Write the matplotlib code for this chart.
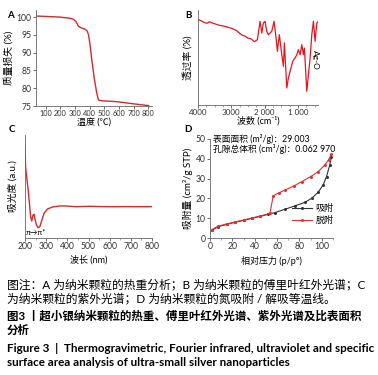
import numpy as np
import matplotlib
matplotlib.use("Agg")
import matplotlib.pyplot as plt
from matplotlib.lines import Line2D
from matplotlib.ticker import MultipleLocator

plt.rcParams['font.family'] = ['Lato', 'Noto Sans CJK SC', 'DejaVu Sans']
plt.rcParams['axes.unicode_minus'] = False

# A: thermogravimetric curve
tga_temp = [40, 100, 200, 260, 285, 307, 323, 341, 364, 382, 393, 404, 415,
            431, 447, 460, 476, 589, 701, 803]
tga_mass = [100.3, 100.2, 100.0, 99.7, 99.5, 98.8, 97.5, 97.0, 96.7, 96.2,
            95.0, 92.0, 88.0, 83.0, 79.0, 76.7, 76.5, 76.2, 75.6, 75.1]

# B: FTIR spectrum
ir_wn = [3991, 3900, 3820, 3739, 3660, 3589, 3520, 3390, 3200, 2988, 2850,
         2688, 2600, 2490, 2400, 2309, 2219, 2138, 2087, 2039, 1988, 1937,
         1889, 1787, 1718, 1658, 1619, 1559, 1487, 1438, 1408, 1336, 1288,
         1237, 1156, 1087, 1036, 988, 937, 886, 838, 808, 736, 688, 637, 586,
         538, 487, 436, 388]
ir_T = [90.2, 88.5, 87.0, 86.0, 87.5, 86.6, 85.8, 84.2, 82.8, 80.7, 78.5,
        73.7, 72.6, 70.2, 69.5, 66.6, 68.7, 88.1, 75.8, 86.3, 88.1, 77.6,
        74.0, 77.6, 88.1, 70.5, 56.5, 74.0, 52.9, 40.7, 65.3, 17.9, 28.4,
        35.5, 46.0, 49.5, 52.9, 58.2, 52.9, 63.5, 52.9, 60.0, 14.4, 31.9,
        49.5, 74.0, 88.1, 67.1, 86.3, 88.1]

# C: UV spectrum
uv_nm = [200, 203, 216, 227, 232, 238, 243, 248, 254, 262, 270, 280, 290,
         306, 330, 362, 394, 441, 505, 560, 620, 680, 740, 800]
uv_abs = [0.93, 0.70, 0.46, 0.21, 0.17, 0.23, 0.237, 0.18, 0.13, 0.103,
          0.113, 0.18, 0.247, 0.29, 0.31, 0.32, 0.32, 0.313, 0.317, 0.314,
          0.313, 0.314, 0.313, 0.314]

# D: N2 adsorption / desorption isotherm
ads_p = [1.5, 7.4, 15, 22.3, 30, 37.2, 45, 52.1, 58, 67, 75.9, 84.8, 90.8,
         96.7, 101.2, 104.2, 107.1, 108.6]
ads_q = [3.8, 5.7, 6.9, 7.9, 8.9, 9.9, 10.9, 12.0, 12.8, 14.5, 16.2, 18.0,
         20.0, 23.1, 26.8, 31.0, 36.9, 41.1]
des_p = [1.5, 7.4, 15, 22.3, 30, 37.2, 45, 53.6, 56.6, 62, 67, 75, 81.9,
         90, 96.7, 102.7, 106, 108.6]
des_q = [4.2, 6.0, 7.1, 8.1, 9.1, 10.1, 11.1, 12.5, 21.4, 22.9, 24.2, 26.3,
         28.4, 31.0, 33.5, 36.9, 39.5, 42.3]

W, H = 378, 375


def box(l, r, t, b):
    return [l / W, 1 - b / H, (r - l) / W, (b - t) / H]


def style(ax, size=6.2):
    for s in ('top', 'right'):
        ax.spines[s].set_visible(False)
    for s in ('left', 'bottom'):
        ax.spines[s].set_color('#666666')
        ax.spines[s].set_linewidth(0.6)
    ax.tick_params(direction='out', length=2, width=0.5, labelsize=size,
                   pad=1.2, colors='#333333')
    ax.tick_params(which='minor', direction='out', length=1.2, width=0.4,
                   colors='#666666')


fig = plt.figure(figsize=(W / 100, H / 100), dpi=100)

# A
ax = fig.add_axes(box(36, 152, 10, 106))
ax.plot(tga_temp, tga_mass, color='#d42a2a', lw=1.0)
ax.set_xlim(35, 825)
ax.set_ylim(75, 102)
ax.set_xticks(range(100, 801, 100))
ax.set_yticks(range(75, 101, 5))
style(ax)
ax.tick_params(axis='x', labelsize=5.3)
ax.set_xlabel('温度 (℃)', fontsize=6.5, labelpad=1)
ax.set_ylabel('质量损失 (%)', fontsize=7, labelpad=2)

# B
ax = fig.add_axes(box(198, 318, 10, 105))
ax.plot(ir_wn, ir_T, color='#e8141c', lw=0.9)
ax.set_xlim(4000, 400)
ax.set_ylim(0, 100)
ax.set_xticks([4000, 3000, 2000, 1000])
ax.set_xticklabels(['4000', '3000', '2 000', '1 000'])
ax.xaxis.set_minor_locator(MultipleLocator(250))
ax.set_yticks([])
style(ax, 5.8)
ax.text(490, 47, 'Ag-O', rotation=-90, fontsize=6, ha='center', va='center')
ax.set_xlabel('波数 (cm⁻¹)', fontsize=6.5, labelpad=0)
ax.set_ylabel('透过率 (%)', fontsize=7, labelpad=4)

# C
ax = fig.add_axes(box(25, 152, 135, 238))
ax.plot(uv_nm, uv_abs, color='#d42a2a', lw=1.0)
ax.set_xlim(200, 800)
ax.set_ylim(0, 1.03)
ax.set_xticks(range(200, 801, 100))
ax.xaxis.set_minor_locator(MultipleLocator(50))
ax.set_yticks([])
style(ax)
ax.text(205, 0.02, 'π→π*', fontsize=5.5, ha='left', va='bottom')
ax.set_xlabel('波长 (nm)', fontsize=6.5, labelpad=3)
ax.set_ylabel('吸光度 (a.u.)', fontsize=7, labelpad=5)

# D
ax = fig.add_axes(box(210, 333, 139, 238))
ax.plot(ads_p, ads_q, color='#333333', lw=0.8, marker='o', ms=1.2)
ax.plot(des_p, des_q, color='#e03030', lw=0.8, marker='o', ms=1.2)
ax.set_xlim(0, 110)
ax.set_ylim(0, 50)
ax.set_xticks(range(0, 101, 20))
ax.set_yticks(range(0, 51, 10))
ax.xaxis.set_minor_locator(MultipleLocator(10))
style(ax)
ax.text(3, 50, '表面面积 (m²/g)：29.003', fontsize=6.3, va='center')
ax.text(3, 45, '孔隙总体积 (cm³/g)：0.062 970', fontsize=6.3, va='center')
handles = [Line2D([0], [0], color='#333333', lw=0.8, marker='o', ms=1.2,
                  label='吸附'),
           Line2D([0], [0], color='#e03030', lw=0.8, marker='o', ms=1.2,
                  label='脱附')]
ax.legend(handles=handles, loc='lower right', bbox_to_anchor=(1.05, 0.08),
          frameon=False, fontsize=6.5, handlelength=2.2, handletextpad=0.4,
          labelspacing=0.3, borderpad=0.1)
ax.set_xlabel('相对压力 (p/p°)', fontsize=6.5, labelpad=3)
ax.set_ylabel('吸附量 (cm³/g STP)', fontsize=7, labelpad=2)

# panel letters
for letter, (x, y) in zip('ABCD', [(10, 15), (188, 15), (12, 129), (188, 130)]):
    fig.text(x / W, 1 - y / H, letter, fontsize=7, fontweight='bold',
             ha='center', va='center')

# caption
cap = [
    ('图注：A 为纳米颗粒的热重分析；B 为纳米颗粒的傅里叶红外光谱；C', 284, 'normal', 8.5),
    ('为纳米颗粒的紫外光谱；D 为纳米颗粒的氮吸附 / 解吸等温线。', 298, 'normal', 8.5),
    ('图3 丨超小银纳米颗粒的热重、傅里叶红外光谱、紫外光谱及比表面积', 316, 'bold', 8.3),
    ('分析', 330, 'bold', 8.3),
]
for txt, y, w, fs in cap:
    fig.text(7 / W, 1 - y / H, txt, fontsize=fs, fontweight=w,
             ha='left', va='center')
eng = [
    ('Figure 3  |  Thermogravimetric, Fourier infrared, ultraviolet and specific', 348),
    ('surface area analysis of ultra-small silver nanoparticles', 363),
]
for txt, y in eng:
    fig.text(7 / W, 1 - y / H, txt, fontsize=8.4, fontweight='bold',
             ha='left', va='center')

fig.savefig('out.png', dpi=100)
